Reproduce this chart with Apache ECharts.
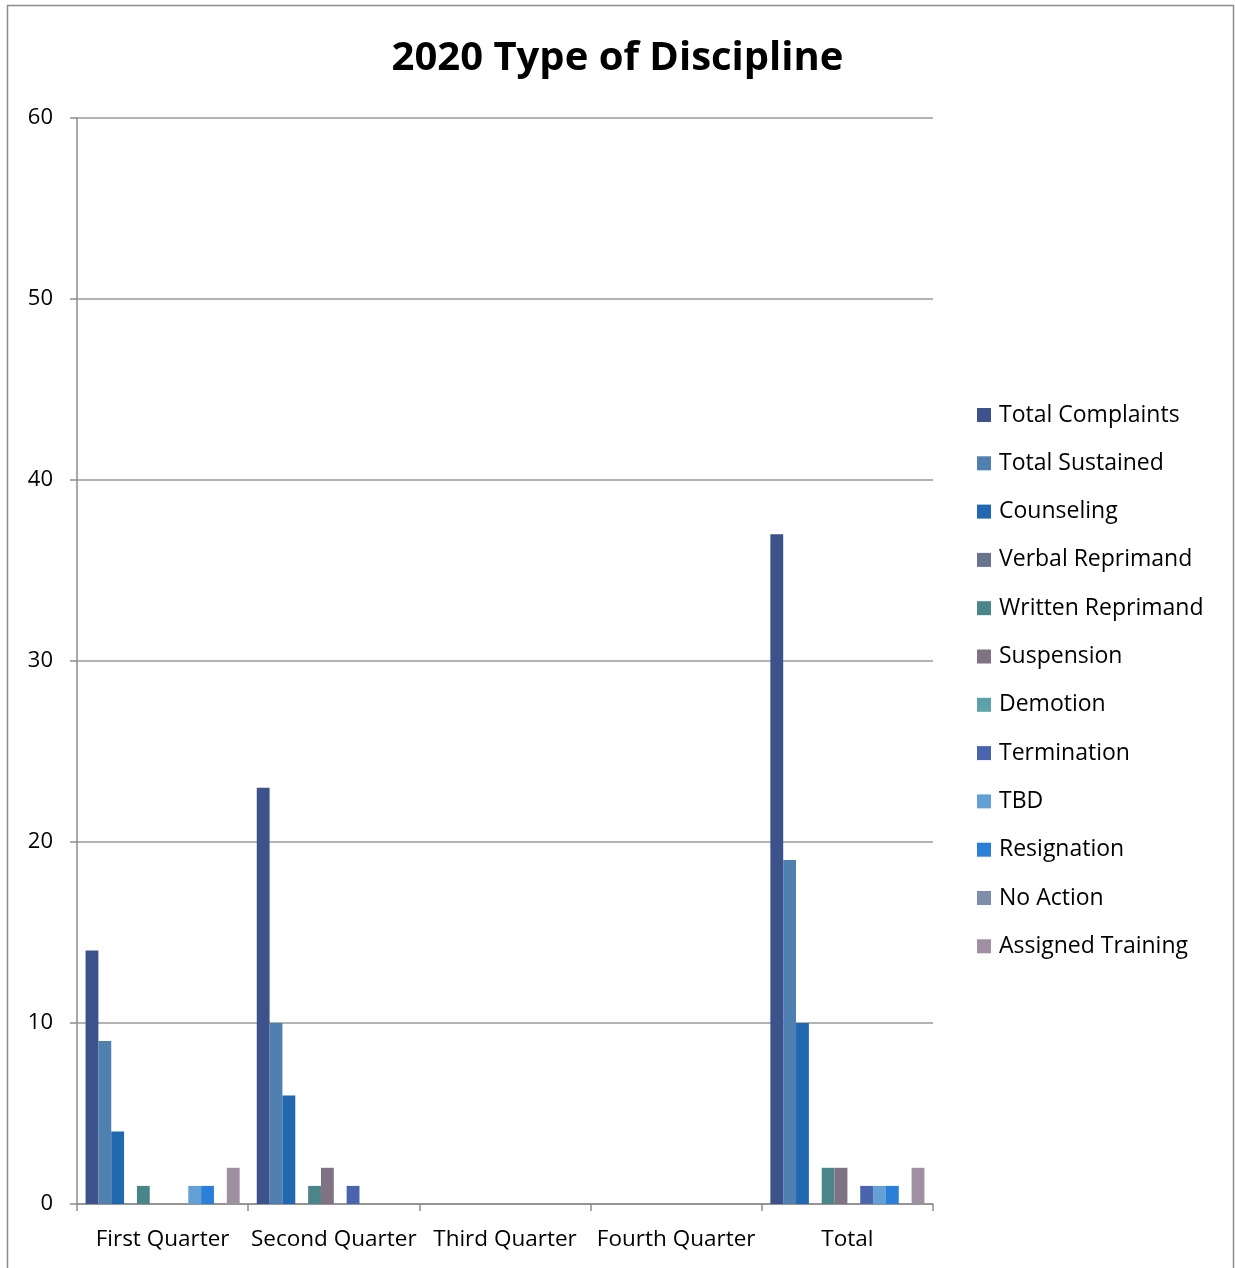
<!DOCTYPE html>
<html>
<head>
<meta charset="utf-8">
<script src="https://cdn.jsdelivr.net/npm/echarts@6/dist/echarts.min.js"></script>
<style>
  html, body { margin: 0; padding: 0; background: #fff; }
  #chart { width: 1235px; height: 1268px; }
</style>
</head>
<body>
<div id="chart"></div>
<script>
// Quarters of 2020 plus the yearly total
const categories = ['First Quarter', 'Second Quarter', 'Third Quarter', 'Fourth Quarter', 'Total'];

// Counts per discipline type, one value per category
const totalComplaints   = [14, 23, 0, 0, 37];
const totalSustained    = [9, 10, 0, 0, 19];
const counseling        = [4, 6, 0, 0, 10];
const verbalReprimand   = [0, 0, 0, 0, 0];
const writtenReprimand  = [1, 1, 0, 0, 2];
const suspension        = [0, 2, 0, 0, 2];
const demotion          = [0, 0, 0, 0, 0];
const termination       = [0, 1, 0, 0, 1];
const tbd               = [1, 0, 0, 0, 1];
const resignation       = [1, 0, 0, 0, 1];
const noAction          = [0, 0, 0, 0, 0];
const assignedTraining  = [2, 0, 0, 0, 2];

const yTicks = [0, 10, 20, 30, 40, 50, 60];

const seriesDefs = [
  ['Total Complaints', totalComplaints, '#3d528b'],
  ['Total Sustained', totalSustained, '#4f80af'],
  ['Counseling', counseling, '#2168b0'],
  ['Verbal Reprimand', verbalReprimand, '#69748f'],
  ['Written Reprimand', writtenReprimand, '#4a858a'],
  ['Suspension', suspension, '#7f7283'],
  ['Demotion', demotion, '#5ba2ab'],
  ['Termination', termination, '#4a64ad'],
  ['TBD', tbd, '#63a0d6'],
  ['Resignation', resignation, '#2a7fd9'],
  ['No Action', noAction, '#7d8daa'],
  ['Assigned Training', assignedTraining, '#9f90a1']
];

const font = '"Open Sans", "Noto Sans", sans-serif';
const chart = echarts.init(document.getElementById('chart'), null, { renderer: 'canvas' });

chart.setOption({
  animation: false,
  backgroundColor: '#fff',
  graphic: [{
    type: 'rect',
    shape: { x: 7.5, y: 5.5, width: 1226, height: 1280 },
    style: { fill: 'none', stroke: '#8c8c8c', lineWidth: 1.5 },
    silent: true
  }],
  title: {
    text: '2020 Type of Discipline',
    left: 'center',
    top: 34,
    textStyle: { fontFamily: font, fontWeight: 'bold', fontSize: 40, color: '#000' }
  },
  legend: {
    orient: 'vertical',
    left: 977,
    top: 402,
    padding: 0,
    itemWidth: 14,
    itemHeight: 14,
    itemGap: 22.3,
    icon: 'rect',
    textStyle: { fontFamily: font, fontSize: 23, color: '#000', lineHeight: 26, padding: [0, 0, 0, 3] },
    data: seriesDefs.map(d => d[0])
  },
  grid: { left: 77, right: 302, top: 118, bottom: 64, containLabel: false },
  xAxis: {
    type: 'category',
    data: categories,
    axisLine: { lineStyle: { color: '#8c8c8c', width: 1.5 } },
    axisTick: { show: true, length: 7, lineStyle: { color: '#8c8c8c', width: 1.5 } },
    axisLabel: { fontFamily: font, fontSize: 22.5, color: '#000', margin: 24, interval: 0 }
  },
  yAxis: {
    type: 'value',
    min: yTicks[0],
    max: yTicks[yTicks.length - 1],
    interval: 10,
    axisLine: { show: true, lineStyle: { color: '#8c8c8c', width: 1.5 } },
    axisTick: { show: true, length: 7, lineStyle: { color: '#8c8c8c', width: 1.5 } },
    axisLabel: { fontFamily: font, fontSize: 22, color: '#000', margin: 24 },
    splitLine: { lineStyle: { color: '#9a9a9a', width: 1.5 } }
  },
  series: seriesDefs.map(([name, values, color]) => ({
    name,
    type: 'bar',
    data: values,
    barGap: '0%',
    barCategoryGap: '10%',
    itemStyle: { color }
  }))
});
</script>
</body>
</html>
